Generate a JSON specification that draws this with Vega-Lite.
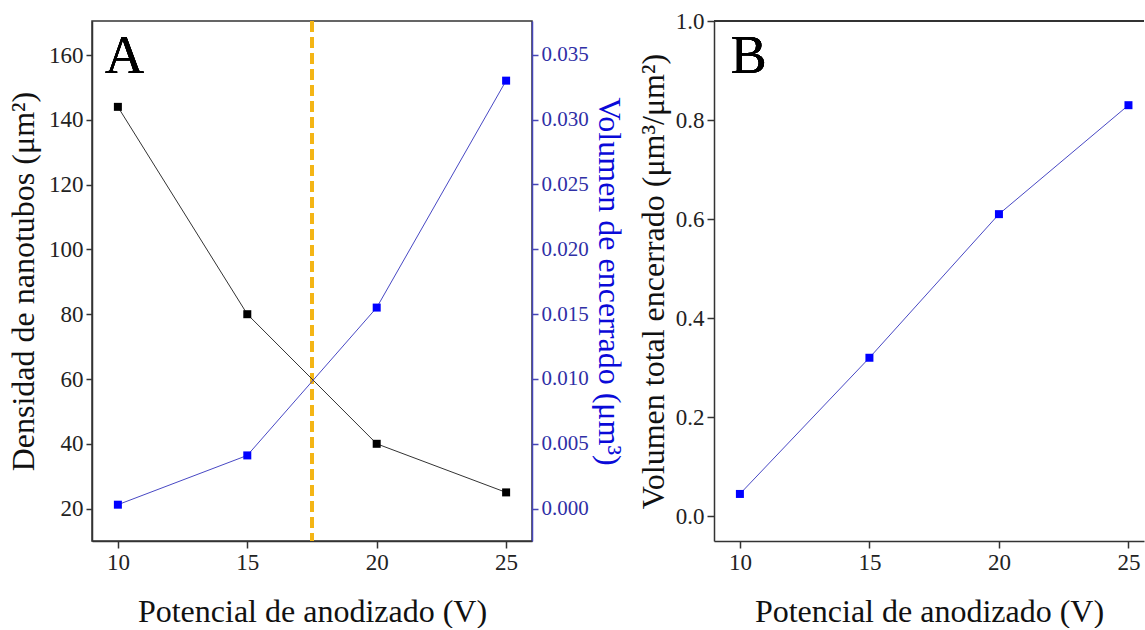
{
  "$schema": "https://vega.github.io/schema/vega-lite/v6.json",
  "padding": {"left": 6, "top": 10, "right": 0, "bottom": 0},
  "background": "white",
  "spacing": 182,
  "bounds": "flush",
  "config": {
    "font": "Liberation Serif",
    "view": {"stroke": "#333333", "strokeWidth": 1.5},
    "axis": {
      "grid": false,
      "domainColor": "#333333",
      "domainWidth": 1.5,
      "tickColor": "#333333",
      "tickWidth": 1.5,
      "tickSize": 7,
      "labelFont": "Liberation Serif",
      "labelFontSize": 23,
      "labelColor": "#222222",
      "labelPadding": 3,
      "labelFlush": false,
      "labelOverlap": false,
      "titleFont": "Liberation Serif",
      "titleFontSize": 32,
      "titleFontWeight": "normal",
      "titleColor": "#111111"
    }
  },
  "datasets": {
    "panelA": [
      {"V": 10, "densidad": 144, "volumen": 0.0003},
      {"V": 15, "densidad": 80, "volumen": 0.0041},
      {"V": 20, "densidad": 40, "volumen": 0.0155},
      {"V": 25, "densidad": 25, "volumen": 0.0330}
    ],
    "panelB": [
      {"V": 10, "total": 0.045},
      {"V": 15, "total": 0.32},
      {"V": 20, "total": 0.61},
      {"V": 25, "total": 0.83}
    ]
  },
  "hconcat": [
    {
      "width": 440,
      "height": 520,
      "data": {"name": "panelA"},
      "layer": [
        {
          "mark": {"type": "rule", "color": "#f4b515", "strokeWidth": 4, "strokeDash": [11, 5]},
          "encoding": {
            "x": {"datum": 17.5, "type": "quantitative"}
          }
        },
        {
          "encoding": {
            "x": {
              "field": "V", "type": "quantitative",
              "scale": {"domain": [9, 26], "nice": false, "zero": false},
              "axis": {"values": [10, 15, 20, 25], "title": "Potencial de anodizado (V)", "titlePadding": 22}
            },
            "y": {
              "field": "densidad", "type": "quantitative",
              "scale": {"domain": [10, 170.5], "nice": false, "zero": false},
              "axis": {"values": [20, 40, 60, 80, 100, 120, 140, 160], "title": "Densidad de nanotubos (μm²)", "titlePadding": 8, "tickSize": 6}
            }
          },
          "layer": [
            {"mark": {"type": "line", "color": "#333333", "strokeWidth": 1}},
            {"mark": {"type": "point", "shape": "square", "filled": true, "size": 64, "color": "#000000", "opacity": 1}},
            {
              "mark": {"type": "text", "text": "A", "fontSize": 54, "font": "Liberation Serif", "align": "left", "baseline": "alphabetic", "color": "#000000"},
              "encoding": {
                "x": {"datum": 9.5, "type": "quantitative"},
                "y": {"datum": 154.5, "type": "quantitative"}
              }
            }
          ]
        },
        {
          "encoding": {
            "x": {"field": "V", "type": "quantitative"},
            "y": {
              "field": "volumen", "type": "quantitative",
              "scale": {"domain": [-0.0025, 0.0376], "nice": false, "zero": false},
              "axis": {
                "orient": "right",
                "values": [0, 0.005, 0.01, 0.015, 0.02, 0.025, 0.03, 0.035],
                "format": ".3f",
                "title": "Volumen de encerrado (μm³)",
                "titlePadding": 3,
                "tickSize": 6,
                "labelFontSize": 21,
                "domainColor": "#4646b8",
                "tickColor": "#4646b8",
                "labelColor": "#2f2fa6",
                "titleColor": "#0a0ad8"
              }
            }
          },
          "layer": [
            {"mark": {"type": "line", "color": "#4848c4", "strokeWidth": 1}},
            {"mark": {"type": "point", "shape": "square", "filled": true, "size": 64, "color": "#0000ff", "opacity": 1}}
          ]
        }
      ],
      "resolve": {"scale": {"y": "independent"}}
    },
    {
      "width": 430,
      "height": 520,
      "data": {"name": "panelB"},
      "view": {"stroke": null},
      "encoding": {
        "x": {
          "field": "V", "type": "quantitative",
          "scale": {"domain": [9, 25.6], "nice": false, "zero": false},
          "axis": {"values": [10, 15, 20, 25], "title": "Potencial de anodizado (V)", "titlePadding": 22}
        },
        "y": {
          "field": "total", "type": "quantitative",
          "scale": {"domain": [-0.05, 1.0], "nice": false, "zero": false},
          "axis": {"values": [0, 0.2, 0.4, 0.6, 0.8, 1.0], "format": ".1f", "title": "Volumen total encerrado (μm³/μm²)", "titlePadding": 5, "tickSize": 7}
        }
      },
      "layer": [
        {
          "mark": {"type": "rule", "color": "#333333", "strokeWidth": 1.5},
          "encoding": {
            "x": null,
            "y": {"datum": 1.0, "type": "quantitative"}
          }
        },
        {"mark": {"type": "line", "color": "#4848c4", "strokeWidth": 1}},
        {"mark": {"type": "point", "shape": "square", "filled": true, "size": 64, "color": "#0000ff", "opacity": 1}},
        {
          "mark": {"type": "text", "text": "B", "fontSize": 54, "font": "Liberation Serif", "align": "left", "baseline": "alphabetic", "color": "#000000"},
          "encoding": {
            "x": {"datum": 9.65, "type": "quantitative"},
            "y": {"datum": 0.895, "type": "quantitative"}
          }
        }
      ]
    }
  ]
}
